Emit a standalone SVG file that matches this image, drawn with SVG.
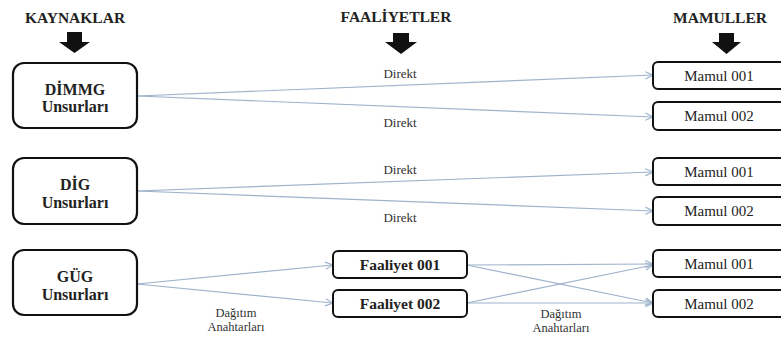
<svg xmlns="http://www.w3.org/2000/svg" width="781" height="340" viewBox="0 0 781 340" font-family="'Liberation Serif', 'DejaVu Serif', serif">
<style>
.hdr{font-weight:bold;font-size:15.5px;fill:#222;text-anchor:middle}
.src rect{fill:#fff;stroke:#111;stroke-width:2.2}
.src text{font-weight:bold;font-size:16px;fill:#222;text-anchor:middle}
.box rect{fill:#fff;stroke:#111;stroke-width:2}
.mam text{font-size:15px;fill:#222;text-anchor:middle}
.fa text{font-weight:bold;font-size:15.5px;fill:#222;text-anchor:middle}
.lbl{font-size:13px;fill:#333;text-anchor:middle}
.lbl2{font-size:12.5px;fill:#333;text-anchor:middle}
.conn line{stroke:#9fb3cb;stroke-width:1.2;fill:none;marker-end:url(#ah)}
.barrow{fill:#111}
</style>
<defs>
<marker id="ah" viewBox="0 0 10 10" refX="9.5" refY="5" markerWidth="9" markerHeight="9" markerUnits="userSpaceOnUse" orient="auto">
<path d="M1,1 L9.5,5 L1,9" fill="none" stroke="#9fb3cb" stroke-width="1.3"/>
</marker>
</defs>

<g id="headers">
<text class="hdr" x="75" y="23">KAYNAKLAR</text>
<text class="hdr" x="396" y="22">FAALİYETLER</text>
<text class="hdr" x="720" y="23">MAMULLER</text>
<path class="barrow" d="M67,32 H82 V42 H90 L74.5,53 L59,42 H67 Z"/>
<path class="barrow" d="M393,33 H409 V42 H417 L401,54 L385,42 H393 Z"/>
<path class="barrow" d="M719,33 H734 V42 H741 L726.5,54 L712,42 H719 Z"/>
</g>

<g id="conn" class="conn">
<line x1="137" y1="96" x2="653" y2="75"/>
<line x1="137" y1="96" x2="653" y2="117"/>
<line x1="137" y1="191" x2="653" y2="172"/>
<line x1="137" y1="191" x2="653" y2="211"/>
<line x1="137" y1="284" x2="333" y2="265"/>
<line x1="137" y1="284" x2="333" y2="303"/>
<line x1="467" y1="265" x2="653" y2="264"/>
<line x1="467" y1="265" x2="653" y2="303"/>
<line x1="467" y1="303" x2="653" y2="265"/>
<line x1="467" y1="303" x2="653" y2="303"/>
</g>

<g id="labels">
<text class="lbl" x="400" y="78">Direkt</text>
<text class="lbl" x="400" y="127">Direkt</text>
<text class="lbl" x="400" y="174">Direkt</text>
<text class="lbl" x="400" y="222">Direkt</text>
<text class="lbl2" x="236" y="317">Dağıtım</text>
<text class="lbl2" x="236" y="331">Anahtarları</text>
<text class="lbl2" x="561" y="318">Dağıtım</text>
<text class="lbl2" x="561" y="332">Anahtarları</text>
</g>

<g id="src-dimmg" class="src"><rect x="13" y="63" width="124" height="65" rx="11"/><text x="75" y="95">DİMMG</text><text x="75" y="112">Unsurları</text></g>
<g id="src-dig" class="src"><rect x="13" y="158" width="124" height="66" rx="11"/><text x="75" y="190">DİG</text><text x="75" y="208">Unsurları</text></g>
<g id="src-gug" class="src"><rect x="13" y="250" width="124" height="65" rx="11"/><text x="75" y="282">GÜG</text><text x="75" y="300">Unsurları</text></g>

<g id="fa-001" class="box fa"><rect x="333" y="251" width="134" height="27" rx="5"/><text x="400" y="270">Faaliyet 001</text></g>
<g id="fa-002" class="box fa"><rect x="333" y="290" width="134" height="27" rx="5"/><text x="400" y="309">Faaliyet 002</text></g>

<g id="m1-001" class="box mam"><rect x="653" y="62" width="140" height="27" rx="5"/><text x="719" y="81">Mamul 001</text></g>
<g id="m1-002" class="box mam"><rect x="653" y="102" width="140" height="28" rx="5"/><text x="719" y="121">Mamul 002</text></g>
<g id="m2-001" class="box mam"><rect x="653" y="158" width="140" height="27" rx="5"/><text x="719" y="177">Mamul 001</text></g>
<g id="m2-002" class="box mam"><rect x="653" y="197" width="140" height="28" rx="5"/><text x="719" y="216">Mamul 002</text></g>
<g id="m3-001" class="box mam"><rect x="653" y="250" width="140" height="27" rx="5"/><text x="719" y="269">Mamul 001</text></g>
<g id="m3-002" class="box mam"><rect x="653" y="290" width="140" height="27" rx="5"/><text x="719" y="309">Mamul 002</text></g>
</svg>
